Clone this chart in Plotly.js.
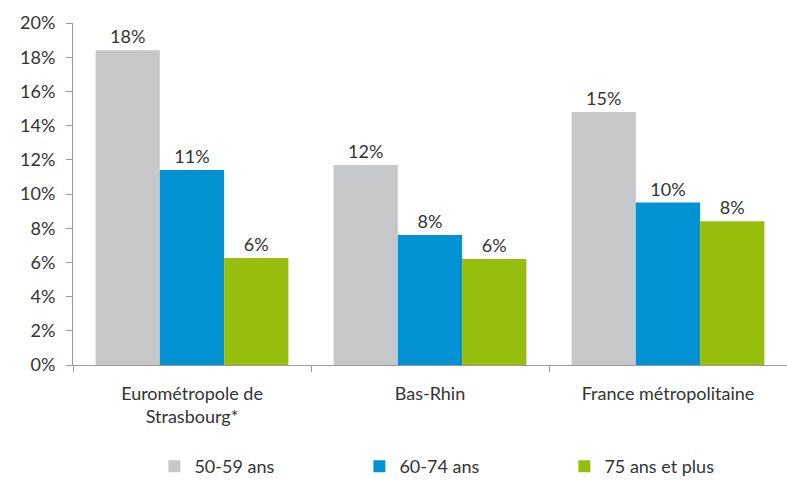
<!DOCTYPE html>
<html><head><meta charset="utf-8">
<script src="https://cdn.plot.ly/plotly-3.0.1.min.js"></script>
<style>html,body{margin:0;padding:0;background:#fff}</style>
</head><body>
<div id="chart" style="width:787px;height:481px"></div>
<script>
const categories = ["Eurométropole de<br>Strasbourg*", "Bas-Rhin", "France métropolitaine"];
const seriesNames = ["50-59 ans", "60-74 ans", "75 ans et plus"];
const v5059 = [18.4, 11.7, 14.8];
const v6074 = [11.4, 7.6, 9.5];
const v75 = [6.26, 6.2, 8.4];
const colors = ["#C6C7C9", "#0092D2", "#97BE0D"];
const yTicks = [0, 2, 4, 6, 8, 10, 12, 14, 16, 18, 20];

const font = "Lato, 'Open Sans', sans-serif";
const series = [v5059, v6074, v75];
const data = series.map((vals, i) => ({
  type: "bar",
  name: seriesNames[i],
  x: categories,
  y: vals,
  marker: {color: colors[i]},
  text: vals.map(v => Math.round(v) + "%"),
  textposition: "outside",
  textfont: {family: font, size: 18, color: "#333"},
  cliponaxis: false,
  hoverinfo: "none"
}));

const layout = {
  width: 787, height: 481,
  margin: {l: 73, r: 0, t: 23, b: 116, autoexpand: false},
  paper_bgcolor: "#fff", plot_bgcolor: "#fff",
  barmode: "group",
  bargap: 0.19,
  bargroupgap: 0,
  font: {family: font, size: 18, color: "#333"},
  xaxis: {
    type: "category",
    showline: true, linecolor: "#999", linewidth: 1,
    ticks: "outside", ticklen: 6, tickcolor: "#999", tickson: "boundaries",
    ticklabelstandoff: 12,
    tickfont: {family: font, size: 18, color: "#333"},
    showgrid: false, zeroline: false
  },
  yaxis: {
    range: [0, 20],
    tickvals: yTicks,
    ticktext: yTicks.map(t => t + "%"),
    showline: true, linecolor: "#999", linewidth: 1,
    ticks: "outside", ticklen: 6, tickcolor: "#999",
    ticklabelstandoff: 7,
    tickfont: {family: font, size: 18, color: "#333"},
    showgrid: false, zeroline: false
  },
  showlegend: true,
  legend: {
    orientation: "h",
    x: 0.114, xanchor: "left",
    yref: "container", y: 0.03, yanchor: "middle",
    entrywidth: 160, entrywidthmode: "pixels",
    font: {family: font, size: 18, color: "#333"},
    itemwidth: 30,
    traceorder: "normal"
  }
};

Plotly.newPlot("chart", data, layout, {displayModeBar: false, staticPlot: true});
</script>
</body></html>
